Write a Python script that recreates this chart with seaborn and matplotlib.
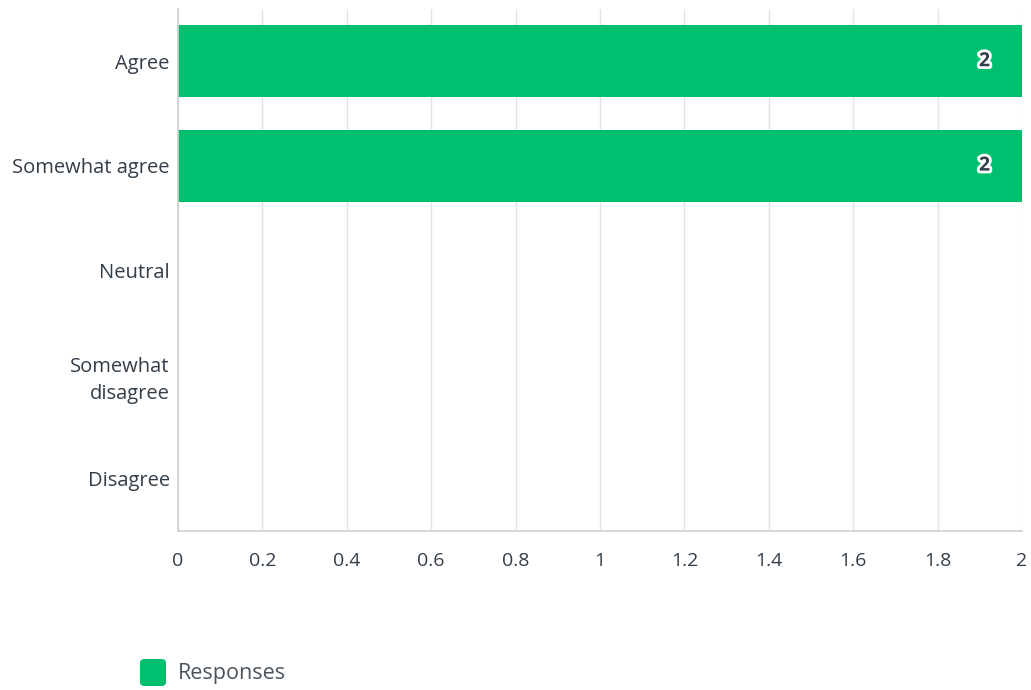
import matplotlib
matplotlib.use("Agg")
import matplotlib.pyplot as plt
import matplotlib.patheffects as pe
import seaborn as sns
import pandas as pd
from matplotlib.patches import FancyBboxPatch

# Survey answer options and response counts
categories = ["Agree", "Somewhat agree", "Neutral", "Somewhat\ndisagree", "Disagree"]
responses = [2, 2, 0, 0, 0]
x_ticks = [0, 0.2, 0.4, 0.6, 0.8, 1, 1.2, 1.4, 1.6, 1.8, 2]
x_tick_labels = ["0", "0.2", "0.4", "0.6", "0.8", "1", "1.2", "1.4", "1.6", "1.8", "2"]
series_name = "Responses"

GREEN = "#00bf6f"
TEXT = "#333e48"
GRID = "#e3e3e3"

sns.set_theme(style="white")
plt.rcParams["font.family"] = ["Open Sans", "DejaVu Sans"]

df = pd.DataFrame({"category": categories, "count": responses})

fig = plt.figure(figsize=(10.31, 6.9), dpi=100)
ax = fig.add_axes([178 / 1031, 1 - 531 / 690, (1022 - 178) / 1031, (531 - 9) / 690])

sns.barplot(data=df, x="count", y="category", orient="h", color=GREEN,
            saturation=1, width=0.69, linewidth=0, edgecolor="none",
            ax=ax, zorder=3)

ax.set_xlim(0, 2)
ax.set_xticks(x_ticks)
ax.set_xticklabels(x_tick_labels)
ax.set_xlabel("")
ax.set_ylabel("")
ax.grid(axis="x", color=GRID, linewidth=1, zorder=0)
ax.set_axisbelow(True)
for side in ["top", "right"]:
    ax.spines[side].set_visible(False)
for side in ["left", "bottom"]:
    ax.spines[side].set_color("#cfcfcf")
    ax.spines[side].set_linewidth(1.2)
    ax.spines[side].set_zorder(4)

ax.tick_params(axis="x", length=0, pad=15, labelsize=14, labelcolor=TEXT)
ax.tick_params(axis="y", length=0, pad=6, labelsize=14.5, labelcolor=TEXT)
for lbl in ax.get_yticklabels():
    lbl.set_horizontalalignment("right")
    lbl.set_multialignment("right")
    lbl.set_linespacing(1.5)

# Value labels inside the bar ends
for i, v in enumerate(responses):
    if v > 0:
        ax.annotate(str(v), xy=(v, i), xytext=(-27, 0), textcoords="offset points",
                    ha="center", va="center", fontsize=14, fontweight="bold",
                    color=TEXT, zorder=5,
                    path_effects=[pe.withStroke(linewidth=4, foreground="white")])

# Legend swatch and label
swatch = FancyBboxPatch((140 / 1031, 1 - 686 / 690), 26 / 1031, 27 / 690,
                        boxstyle="round,pad=0,rounding_size=0.004",
                        transform=fig.transFigure, fc=GREEN, ec="none",
                        mutation_aspect=1031 / 690)
fig.patches.append(swatch)
fig.text(178 / 1031, 1 - 674 / 690, series_name, ha="left", va="center",
         fontsize=15.5, color="#4a545c")

fig.savefig("out.png", dpi=100)
